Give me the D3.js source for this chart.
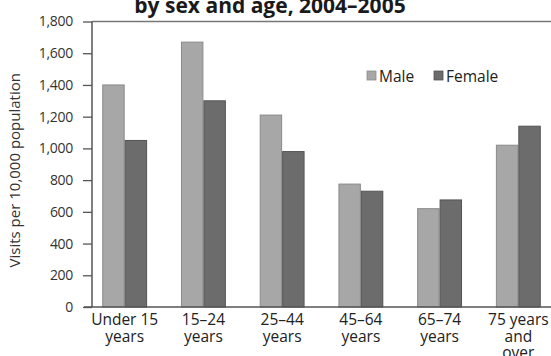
<!DOCTYPE html>
<html>
<head>
<meta charset="utf-8">
<script src="https://cdn.jsdelivr.net/npm/d3@7"></script>
<style>
  html, body { margin: 0; padding: 0; background: #fff; }
  svg { display: block; font-family: "Open Sans", "Noto Sans", sans-serif; }
</style>
</head>
<body>
<svg id="chart" width="551" height="356"></svg>
<script>
// Age groups (each label split into lines)
const categories = ["Under 15|years", "15–24|years", "25–44|years", "45–64|years", "65–74|years", "75 years|and|over"];
const seriesNames = ["Male", "Female"];
const maleValues = [1400, 1670, 1210, 775, 620, 1020];
const femaleValues = [1050, 1300, 980, 730, 675, 1140];
const yTicks = [0, 200, 400, 600, 800, 1000, 1200, 1400, 1600, 1800];
const titleText = "by sex and age, 2004–2005";
const yTitle = "Visits per 10,000 population";

const colors = { Male: "#a7a7a7", Female: "#6c6c6c" };
const strokes = { Male: "#8a8a8a", Female: "#545454" };

const svg = d3.select("#chart");
const W = 551;
const plotLeft = 92, plotRight = 551, plotTop = 21.5, plotBottom = 307;

const rows = categories.map((c, i) => ({ cat: c, Male: maleValues[i], Female: femaleValues[i] }));

const x0 = d3.scaleBand().domain(categories).range([plotLeft, plotRight]).paddingInner(0.43).paddingOuter(0.13);
const x1 = d3.scaleBand().domain(seriesNames).range([0, x0.bandwidth()]).padding(0);
const y = d3.scaleLinear().domain([0, 1800]).range([plotBottom, plotTop]);

// Title (continuation line)
svg.append("text")
  .attr("x", 270).attr("y", 12.5)
  .attr("text-anchor", "middle")
  .attr("font-size", 21).attr("font-weight", 700)
  .attr("fill", "#1a1a1a")
  .text(titleText);

// Top frame line
svg.append("line")
  .attr("x1", plotLeft).attr("x2", W).attr("y1", plotTop).attr("y2", plotTop)
  .attr("stroke", "#777").attr("stroke-width", 1.5);

// Bars
const groups = svg.append("g").selectAll("g").data(rows).join("g")
  .attr("transform", d => `translate(${x0(d.cat)},0)`);
groups.selectAll("rect").data(d => seriesNames.map(k => ({ key: k, value: d[k] }))).join("rect")
  .attr("x", d => x1(d.key) + 0.5)
  .attr("width", x1.bandwidth() - 1)
  .attr("y", d => y(d.value))
  .attr("height", d => plotBottom - y(d.value))
  .attr("fill", d => colors[d.key])
  .attr("stroke", d => strokes[d.key])
  .attr("stroke-width", 1);

// Y axis
const yAxis = svg.append("g")
  .attr("transform", `translate(${plotLeft},0)`)
  .call(d3.axisLeft(y).tickValues(yTicks).tickSize(9).tickPadding(10).tickFormat(d3.format(",")));
yAxis.select(".domain").attr("stroke", "#555").attr("stroke-width", 1.5).attr("d", `M0,${plotTop}V${plotBottom}`);
yAxis.selectAll(".tick line").attr("stroke", "#555").attr("stroke-width", 1.3);
yAxis.selectAll(".tick text").attr("font-size", 14).attr("fill", "#333")
  .attr("font-family", "'Open Sans', sans-serif").attr("letter-spacing", -0.3);

// X baseline
svg.append("line")
  .attr("x1", 84).attr("x2", W).attr("y1", plotBottom).attr("y2", plotBottom)
  .attr("stroke", "#555").attr("stroke-width", 1.5);

// X labels
const xl = svg.append("g").selectAll("text").data(categories).join("text")
  .attr("text-anchor", "middle")
  .attr("font-size", 15.5).attr("fill", "#222")
  .attr("transform", d => `translate(${x0(d) + x0.bandwidth() / 2},${plotBottom + 18})`);
xl.selectAll("tspan").data(d => d.split("|")).join("tspan")
  .attr("x", 0).attr("dy", (d, i) => i === 0 ? 0 : 16.5)
  .text(d => d);

// Y title
svg.append("text")
  .attr("transform", `translate(20,${(plotTop + plotBottom) / 2 + 6}) rotate(-90)`)
  .attr("text-anchor", "middle")
  .attr("font-size", 15).attr("fill", "#333")
  .text(yTitle);

// Legend
const legendPos = [{ key: "Male", x: 367 }, { key: "Female", x: 434 }];
const lg = svg.append("g").selectAll("g").data(legendPos).join("g")
  .attr("transform", d => `translate(${d.x},71)`);
lg.append("rect").attr("width", 9).attr("height", 9)
  .attr("fill", d => colors[d.key]).attr("stroke", d => strokes[d.key]).attr("stroke-width", 0.8);
lg.append("text").attr("x", 12).attr("y", 10.5)
  .attr("font-size", 15.5).attr("fill", "#222")
  .text(d => d.key);
</script>
</body>
</html>
